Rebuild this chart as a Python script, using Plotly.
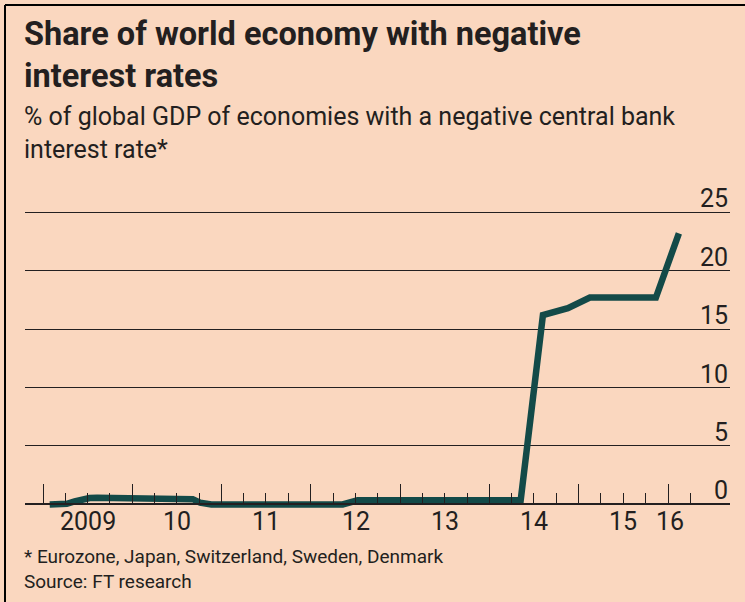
import pandas as pd
import plotly.graph_objects as go

# Share of global GDP (%) in economies with a negative central bank rate
dates = [
    "2009-01-28", "2009-04-08", "2009-05-10", "2009-06-10", "2009-07-10", "2009-08-10",
    "2010-08-10", "2010-09-05", "2010-10-05", "2010-11-20",
    "2012-05-10", "2012-06-05", "2012-07-10",
    "2014-05-08", "2014-08-07", "2014-11-17", "2015-02-15",
    "2015-11-12", "2016-02-14",
]
share = [
    0.0, 0.05, 0.25, 0.45, 0.55, 0.58,
    0.58, 0.45, 0.15, 0.0,
    0.0, 0.2, 0.35,
    0.35, 16.2, 16.8, 17.7,
    17.7, 23.2,
]

year_labels = ["2009", "10", "11", "12", "13", "14", "15", "16"]
year_label_dates = ["2009-07-02", "2010-07-02", "2011-07-02", "2012-07-02",
                    "2013-07-02", "2014-07-02", "2015-07-02", "2016-01-10"]
y_ticks = [0, 5, 10, 15, 20, 25]
y_tick_labels = ["0", "5", "10", "15", "20", "25"]

title = "Share of world economy with negative<br>interest rates"
subtitle = "% of global GDP of economies with a negative central bank<br>interest rate*"
footnote = "* Eurozone, Japan, Switzerland, Sweden, Denmark"
source = "Source: FT research"

BG = "#FAD7BF"
INK = "#231F20"
LINE = "#134A48"
FONT = "Roboto, sans-serif"

W, H = 745, 602
ML, MR, MT, MB = 25, 15, 200, 92
PW, PH = W - ML - MR, H - MT - MB


def px_x(p):
    return (p - ML) / PW


def px_y(p):
    return (H - MB - p) / PH


year_ticks = pd.date_range("2009-01-01", "2016-01-01", freq="YS")
quarter_ticks = [d for d in pd.date_range("2009-04-01", "2016-04-01", freq="QS")
                 if d.month != 1]

fig = go.Figure()
fig.add_trace(go.Scatter(
    x=dates, y=share, mode="lines",
    line=dict(color=LINE, width=6.5),
    hoverinfo="skip", showlegend=False,
))

fig.update_layout(
    width=W, height=H,
    margin=dict(l=ML, r=MR, t=MT, b=MB),
    paper_bgcolor=BG, plot_bgcolor=BG,
    font=dict(family=FONT, color=INK),
    showlegend=False,
    xaxis=dict(
        type="date",
        range=["2008-10-19", "2016-09-10"],
        anchor="free", position=px_y(504.4),
        showgrid=False, zeroline=False,
        showline=True, linecolor=INK, linewidth=1.5,
        tickmode="array", tickvals=list(year_ticks),
        ticks="inside", ticklen=20, tickwidth=1.3, tickcolor=INK,
        showticklabels=False,
        minor=dict(tickmode="array", tickvals=quarter_ticks,
                   ticks="inside", ticklen=11, tickwidth=1.3, tickcolor=INK,
                   showgrid=False),
    ),
    yaxis=dict(
        range=[-0.479, 26.05],
        showgrid=True, gridcolor=INK, gridwidth=1.4,
        tickmode="array", tickvals=y_ticks[1:],
        zeroline=False, showline=False, showticklabels=False, ticks="",
    ),
)

# right-hand value labels sitting on the gridlines
for v, t in zip(y_ticks, y_tick_labels):
    fig.add_annotation(x=1, xref="paper", y=v, yref="y", text=t,
                       xanchor="right", yanchor="bottom", yshift=-3,
                       showarrow=False, font=dict(size=25, color=INK))

# year labels centred in each year
for d, t in zip(year_label_dates, year_labels):
    fig.add_annotation(x=d, xref="x", y=px_y(505), yref="paper", text=t,
                       xanchor="center", yanchor="top",
                       showarrow=False, font=dict(size=25, color=INK))

fig.add_annotation(x=px_x(22), xref="paper", y=px_y(13), yref="paper",
                   text="<b>" + title + "</b>", align="left",
                   xanchor="left", yanchor="top", showarrow=False,
                   font=dict(size=32.5, color=INK))
fig.add_annotation(x=px_x(22), xref="paper", y=px_y(100), yref="paper",
                   text=subtitle, align="left",
                   xanchor="left", yanchor="top", showarrow=False,
                   font=dict(size=25, color=INK))
fig.add_annotation(x=px_x(22), xref="paper", y=px_y(543), yref="paper",
                   text=footnote, align="left",
                   xanchor="left", yanchor="top", showarrow=False,
                   font=dict(size=19, color=INK))
fig.add_annotation(x=px_x(22), xref="paper", y=px_y(568), yref="paper",
                   text=source, align="left",
                   xanchor="left", yanchor="top", showarrow=False,
                   font=dict(size=19, color=INK))

# frame on the top and left edges
fig.add_shape(type="line", xref="paper", yref="paper",
              x0=px_x(5), x1=px_x(W), y0=px_y(5), y1=px_y(5),
              line=dict(color="#000000", width=2))
fig.add_shape(type="line", xref="paper", yref="paper",
              x0=px_x(5), x1=px_x(5), y0=px_y(5), y1=px_y(H),
              line=dict(color="#000000", width=2))

fig.write_html("out.html")
